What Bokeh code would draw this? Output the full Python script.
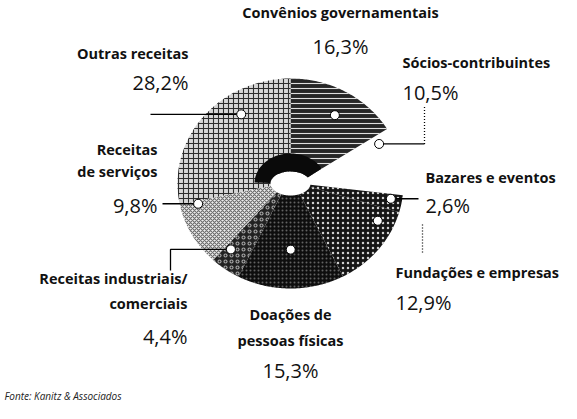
import numpy as np
from bokeh.plotting import figure
from bokeh.models import ColumnDataSource, Range1d
from bokeh.core.properties import value
from bokeh.embed import file_html
from bokeh.resources import INLINE

# ---------------- data ----------------
categories = ["Convênios governamentais", "Sócios-contribuintes", "Bazares e eventos",
              "Fundações e empresas", "Doações de pessoas físicas",
              "Receitas industriais/comerciais", "Receitas de serviços", "Outras receitas"]
shares = [16.3, 10.5, 2.6, 12.9, 15.3, 4.4, 9.8, 28.2]
name_lines = [["Convênios governamentais"], ["Sócios-contribuintes"], ["Bazares e eventos"],
              ["Fundações e empresas"], ["Doações de", "pessoas físicas"],
              ["Receitas industriais/", "comerciais"], ["Receitas", "de serviços"],
              ["Outras receitas"]]
source_note = "Fonte: Kanitz & Associados"

# ---------------- layout / style ----------------
CX, CY, RX, RY = 298, 191, 113, 105
RX_IN, RY_IN = 20, 12
START = 90.0
fills = ["#262626", "white", "#151515", "#151515", "#0e0e0e", "#222222", "#ececec", "#d6d6d6"]
hatches = ["-", " ", ".", ".", ".", "o", "x", "+"]
hatch_colors = ["white", "white", "white", "white", "white", "white", "#333333", "#1a1a1a"]
hatch_scales = [5, 5, 5, 5, 4, 6, 4, 5]
hatch_alphas = [0.85, 0, 0.8, 0.8, 0.35, 0.6, 0.7, 0.9]
alphas = [1, 0, 1, 1, 1, 1, 1, 1]
marker_frac = [0.53, 0.15, 0.3, 0.19, 0.5, 0.8, 0.95, 0.67]
marker_r = [0.76, 0.87, 0.9, 0.85, 0.63, 0.82, 0.84, 0.79]

# label layout: x anchor, alignment, y of each name line, y of value
label_layout = [
    (348, "center", [20], 54),
    (410, "left", [70], 100),
    (433, "left", [185], 213),
    (403, "left", [280], 310),
    (298, "center", [322, 348], 378),
    (195, "right", [286, 311], 344),
    (165, "right", [157, 179], 213),
    (196, "right", [61], 90),
]

bounds = START - np.cumsum([0] + shares) * 3.6

xs, ys = [], []
for i in range(len(shares)):
    t = np.radians(np.linspace(bounds[i], bounds[i + 1], 80))
    ox = CX + RX * np.cos(t)
    oy = CY - RY * np.sin(t)
    ix = CX + RX_IN * np.cos(t[::-1])
    iy = CY - RY_IN * np.sin(t[::-1])
    xs.append(list(np.concatenate([ox, ix])))
    ys.append(list(np.concatenate([oy, iy])))

slices = ColumnDataSource(dict(xs=xs, ys=ys, fill=fills, hatch=hatches,
                               hcol=hatch_colors, hscale=hatch_scales, halpha=hatch_alphas,
                               alpha=alphas, cat=categories))

p = figure(width=561, height=403, output_backend="svg", toolbar_location=None,
           x_axis_type=None, y_axis_type=None, min_border=0,
           x_range=Range1d(8, 569), y_range=Range1d(411, 8))
p.outline_line_color = None
p.background_fill_color = "white"
p.border_fill_color = "white"

p.patches("xs", "ys", source=slices, fill_color="fill", fill_alpha="alpha",
          hatch_pattern="hatch", hatch_color="hcol", hatch_scale="hscale",
          hatch_weight=1.1, hatch_alpha="halpha", line_color=None)

# dark shading around the central hole
tb = np.radians(np.linspace(30, 178, 60))
bx = np.concatenate([CX + 36 * np.cos(tb), CX + RX_IN * np.cos(tb[::-1])])
by = np.concatenate([CY - 30 * np.sin(tb), CY - RY_IN * np.sin(tb[::-1])])
p.patch(list(bx), list(by), fill_color="#0a0a0a", line_color=None)

# markers
mx, my = [], []
for i in range(len(shares)):
    a = np.radians(bounds[i] + (bounds[i + 1] - bounds[i]) * marker_frac[i])
    mx.append(CX + RX * marker_r[i] * np.cos(a))
    my.append(CY - RY * marker_r[i] * np.sin(a))

# leader lines
solid_x = [[mx[7], 158], [mx[1], 432], [mx[2], 426], [mx[6], 170], [mx[5], 178, 178]]
solid_y = [[my[7], my[7]], [my[1], my[1]], [my[2], my[2]], [my[6], my[6]],
           [my[5], my[5], 278]]
p.multi_line(solid_x, solid_y, line_color="black", line_width=1.3)
p.multi_line([[432, 432], [430, 430]], [[my[1], 114], [232, 262]],
             line_color="black", line_width=1.3, line_dash="1 2")

p.scatter(mx, my, size=9, fill_color="white", line_color="black", line_width=1)

# text labels
nx, ny, nt, na = [], [], [], []
vx, vy, vt, va = [], [], [], []
for (x, al, ylines, yv), lines, s in zip(label_layout, name_lines, shares):
    for yy, ln in zip(ylines, lines):
        nx.append(x); ny.append(yy); nt.append(ln); na.append(al)
    vx.append(x); vy.append(yv); va.append(al)
    vt.append(f"{s:.1f}".replace(".", ",") + "%")

p.text(x="x", y="y", text="t", text_align="a",
       source=ColumnDataSource(dict(x=nx, y=ny, t=nt, a=na)),
       text_font=value("Open Sans"), text_font_size="14.5px", text_font_style="bold",
       text_baseline="middle", text_color="#111111")
p.text(x="x", y="y", text="t", text_align="a",
       source=ColumnDataSource(dict(x=vx, y=vy, t=vt, a=va)),
       text_font=value("Open Sans"), text_font_size="20px", text_baseline="middle",
       text_color="#111111")
p.text(x=[12], y=[403], text=[source_note], text_font=value("Open Sans"),
       text_font_size="10px", text_font_style="italic", text_baseline="middle",
       text_color="#222222")

open("out.html", "w").write(file_html(p, INLINE))
